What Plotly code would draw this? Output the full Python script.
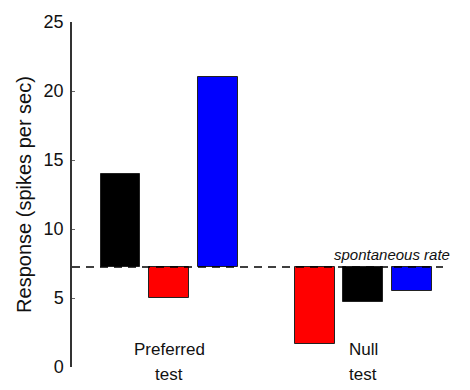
import plotly.graph_objects as go

# ---- data ----
spontaneous_rate = 7.25
groups = ["Preferred", "Null"]
group_sublabel = "test"
# bar order inside each group (as drawn left to right)
preferred_series = ["control", "adapt A", "adapt B"]
preferred_values = [14.0, 5.0, 21.0]
null_series = ["adapt A", "control", "adapt B"]
null_values = [1.65, 4.7, 5.5]
y_ticks = [0, 5, 10, 15, 20, 25]
top_caption = "(mean of the neuron during the trials)"

series_colors = {"control": "#000000", "adapt A": "#ff0000", "adapt B": "#0000ff"}

FONT = "Liberation Sans, Arial, sans-serif"
TXT = "#111111"

fig = go.Figure()

group_data = [(preferred_series, preferred_values), (null_series, null_values)]
slots_per_group = 4
for gi, (names, vals) in enumerate(group_data):
    for si, (nm, v) in enumerate(zip(names, vals)):
        fig.add_trace(go.Bar(
            x=[gi * slots_per_group + si],
            y=[v - spontaneous_rate],
            base=[spontaneous_rate],
            width=0.82,
            marker=dict(color=series_colors[nm], line=dict(color="#222222", width=1)),
            name=nm,
            showlegend=False,
            hoverinfo="skip",
        ))

# clipped caption at the top edge (only its lower edge shows in the reference);
# drawn as a text trace so it is not kept on-screen like an annotation
fig.add_trace(go.Scatter(
    x=[-2.03], y=[26.55], mode="text", text=[top_caption],
    textposition="middle right", cliponaxis=False,
    textfont=dict(family=FONT, size=17, color=TXT),
    showlegend=False, hoverinfo="skip",
))

# spontaneous rate dashed line
fig.add_shape(type="line", xref="paper", yref="y", x0=0, x1=1,
              y0=spontaneous_rate, y1=spontaneous_rate,
              line=dict(color="#000000", width=1.6, dash="8px,6px"), layer="above")

fig.add_annotation(text="<i>spontaneous rate</i>", xref="paper", yref="y",
                   x=1.025, y=spontaneous_rate + 0.9, xanchor="right", yanchor="middle",
                   showarrow=False, font=dict(family=FONT, size=15, color=TXT))

# group labels
for gi, g in enumerate(groups):
    cx = gi * slots_per_group + 1
    fig.add_annotation(text=g, x=cx, xref="x", yref="paper", y=(367.5 - 350) / 351.5,
                       xanchor="center", yanchor="middle", showarrow=False,
                       font=dict(family=FONT, size=17, color=TXT))
    fig.add_annotation(text=group_sublabel, x=cx, xref="x", yref="paper",
                       y=(367.5 - 375) / 351.5,
                       xanchor="center", yanchor="middle", showarrow=False,
                       font=dict(family=FONT, size=17, color=TXT))

fig.update_layout(
    width=470, height=390,
    margin=dict(l=72, r=27, t=16, b=22.5, pad=0),
    plot_bgcolor="white", paper_bgcolor="white",
    bargap=0,
    xaxis=dict(range=[-1, 6.64], showgrid=False, zeroline=False, showline=False,
               showticklabels=False, ticks=""),
    yaxis=dict(range=[0, 25], tickvals=y_ticks, showgrid=False, zeroline=False,
               showline=True, linecolor="#333333", linewidth=1.5,
               ticks="inside", ticklen=3, tickcolor="#666666", tickwidth=1,
               ticklabelstandoff=3,
               tickfont=dict(family=FONT, size=18, color=TXT),
               title=dict(text="Response (spikes per sec)",
                          font=dict(family=FONT, size=20, color=TXT), standoff=7)),
    font=dict(family=FONT, color=TXT),
)

fig.write_html("out.html", config={"displayModeBar": False},
               post_script="document.body.style.margin='0';document.body.style.overflow='hidden';")
